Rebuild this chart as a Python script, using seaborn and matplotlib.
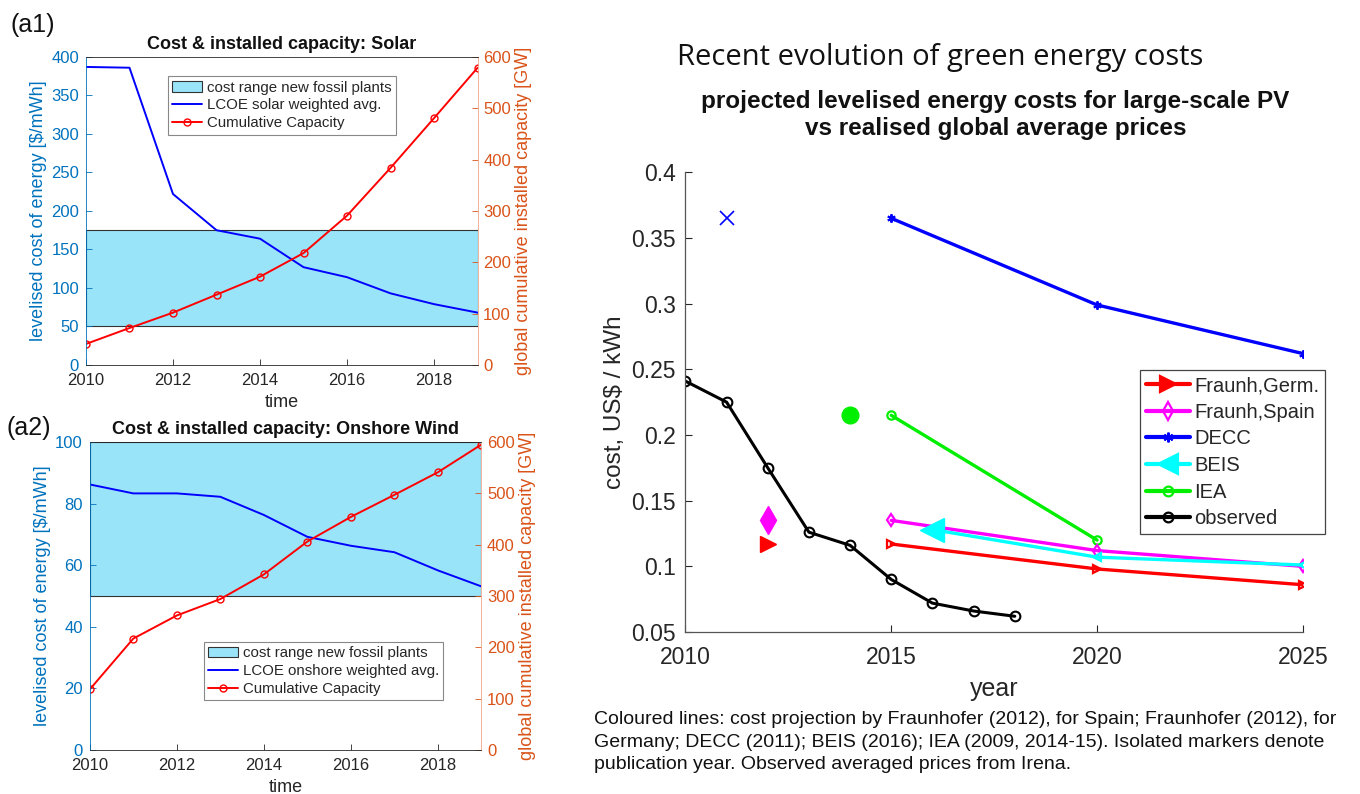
import numpy as np
import pandas as pd
import matplotlib
matplotlib.use("Agg")
import matplotlib.pyplot as plt
from matplotlib.patches import Patch
from matplotlib.lines import Line2D
import seaborn as sns

# ---------------- data ----------------
years_a = [2010, 2011, 2012, 2013, 2014, 2015, 2016, 2017, 2018, 2019]

solar_lcoe = [387, 386, 222, 175, 164, 127, 114, 93, 79, 68]
solar_capacity = [41, 72, 102, 137, 172, 218, 291, 384, 481, 579]
solar_fossil_range = [50, 175]

wind_lcoe = [86.2, 83.3, 83.3, 82.2, 76.3, 69.2, 66.3, 64.2, 58.3, 53.1]
wind_capacity = [118, 217, 262, 294, 342, 406, 454, 497, 541, 595]
wind_fossil_range = [50, 100]

obs_years = [2010, 2011, 2012, 2013, 2014, 2015, 2016, 2017, 2018]
obs_cost = [0.241, 0.225, 0.175, 0.126, 0.116, 0.090, 0.072, 0.066, 0.062]

germ_years = [2015, 2020, 2025]
germ_cost = [0.117, 0.098, 0.086]
spain_years = [2015, 2020, 2025]
spain_cost = [0.135, 0.112, 0.100]
decc_years = [2015, 2020, 2025]
decc_cost = [0.365, 0.299, 0.262]
beis_years = [2016, 2020, 2025]
beis_cost = [0.128, 0.107, 0.101]
iea_years = [2015, 2020]
iea_cost = [0.215, 0.120]

# publication-year markers
pub_germ = (2012, 0.117)
pub_spain = (2012, 0.135)
pub_decc = (2011, 0.365)
pub_beis = (2016, 0.128)
pub_iea = (2014, 0.215)

series_names = ["Fraunh,Germ.", "Fraunh,Spain", "DECC", "BEIS", "IEA", "observed"]

# ---------------- style ----------------
sns.set_theme(style="ticks")
plt.rcParams["font.family"] = ["Liberation Sans", "DejaVu Sans"]
plt.rcParams["xtick.direction"] = "in"
plt.rcParams["ytick.direction"] = "in"

BLUE_AX = "#0072BD"
ORANGE_AX = "#D95319"
BAND = "#99E4F9"
DARK = "#262626"

fig = plt.figure(figsize=(13.6, 7.94), dpi=100)


def cost_capacity_panel(rect, lcoe, cap, band, ymax_l, ystep_l, title, lcoe_label,
                        legend_xy, tag, tag_xy):
    ax = fig.add_axes(rect)
    ax.axhspan(band[0], band[1], facecolor=BAND, edgecolor="#333333", lw=0.8, zorder=0)
    sns.lineplot(x=years_a, y=lcoe, ax=ax, color="#0000FF", lw=1.4)
    ax.set_xlim(2010, 2019)
    ax.set_ylim(0, ymax_l)
    ax.set_yticks(np.arange(0, ymax_l + 1, ystep_l))
    ax.set_xticks([2010, 2012, 2014, 2016, 2018])
    ax.set_xlabel("time", fontsize=13, color=DARK, labelpad=4)
    ax.set_ylabel("levelised cost of energy [$/mWh]", fontsize=13, color=BLUE_AX, labelpad=3)
    ax.tick_params(axis="y", colors=BLUE_AX, labelsize=12, length=4, width=0.6, pad=5)
    ax.tick_params(axis="x", colors=DARK, labelsize=12, length=4, width=0.6, pad=6)
    ax.set_title(title, fontsize=13, fontweight="bold", color="#111111", pad=6)

    ax2 = ax.twinx()
    sns.lineplot(x=years_a, y=cap, ax=ax2, color="#FF0000", lw=1.4, marker="o",
                 markersize=5, markerfacecolor="none", markeredgecolor="#FF0000",
                 markeredgewidth=1.0)
    ax2.set_ylim(0, 600)
    ax2.set_yticks(np.arange(0, 601, 100))
    ax2.set_ylabel("global cumulative installed capacity [GW]", fontsize=13,
                   color=ORANGE_AX, labelpad=3)
    ax2.tick_params(axis="y", colors=ORANGE_AX, labelsize=12, length=4, width=0.6, pad=4)
    for sp in ("top", "bottom"):
        ax2.spines[sp].set_color(DARK)
        ax2.spines[sp].set_linewidth(0.6)
    ax2.spines["left"].set_color(BLUE_AX)
    ax2.spines["right"].set_color("#F2A58A")
    ax2.spines["left"].set_linewidth(0.6)
    ax2.spines["right"].set_linewidth(0.6)
    for sp in ax.spines.values():
        sp.set_visible(False)

    handles = [
        Patch(facecolor=BAND, edgecolor="#333333", lw=0.8, label="cost range new fossil plants"),
        Line2D([], [], color="#0000FF", lw=1.4, label=lcoe_label),
        Line2D([], [], color="#FF0000", lw=1.4, marker="o", markersize=5,
               markerfacecolor="none", label="Cumulative Capacity"),
    ]
    leg = ax2.legend(handles=handles, loc="upper left", bbox_to_anchor=legend_xy,
                     fontsize=10.8, frameon=True, fancybox=False, framealpha=1,
                     edgecolor="#888888", borderpad=0.3, labelspacing=0.25,
                     handlelength=2.0, handletextpad=0.3, borderaxespad=0)
    leg.get_frame().set_linewidth(0.8)
    fig.text(tag_xy[0], tag_xy[1], tag, fontsize=18, color="#111111", va="center")
    return ax, ax2


cost_capacity_panel([0.0632, 0.5403, 0.288, 0.388], solar_lcoe, solar_capacity,
                    solar_fossil_range, 400, 50, "Cost & installed capacity: Solar",
                    "LCOE solar weighted avg.", (0.209, 0.938), "(a1)", (0.008, 0.968))
cost_capacity_panel([0.066, 0.0554, 0.288, 0.388], wind_lcoe, wind_capacity,
                    wind_fossil_range, 100, 20, "Cost & installed capacity: Onshore Wind",
                    "LCOE onshore weighted avg.", (0.291, 0.351), "(a2)", (0.005, 0.461))

# ---------------- right panel ----------------
ax = fig.add_axes([0.504, 0.204, 0.454, 0.579])
LW = 2.4
line_kw = dict(lw=LW, markersize=6, markerfacecolor="none", markeredgewidth=1.6)
sns.lineplot(x=decc_years, y=decc_cost, ax=ax, color="#0000FF", marker=(6, 2, 0),
             markeredgecolor="#0000FF", lw=LW, markersize=6, markeredgewidth=1.4)
sns.lineplot(x=iea_years, y=iea_cost, ax=ax, color="#00EE00", marker="o",
             markeredgecolor="#00EE00", **line_kw)
sns.lineplot(x=spain_years, y=spain_cost, ax=ax, color="#FF00FF", marker="d",
             markeredgecolor="#FF00FF", **line_kw)
sns.lineplot(x=beis_years, y=beis_cost, ax=ax, color="#00FFFF", marker="<",
             markeredgecolor="#00FFFF", **line_kw)
sns.lineplot(x=germ_years, y=germ_cost, ax=ax, color="#FF0000", marker=">",
             markeredgecolor="#FF0000", **line_kw)
sns.lineplot(x=obs_years, y=obs_cost, ax=ax, color="black", marker="o",
             markeredgecolor="black", lw=2.2, markersize=7, markerfacecolor="none",
             markeredgewidth=1.5)

ax.plot(*pub_decc, marker="x", color="#0000FF", markersize=10, mew=1.2, ls="none")
ax.plot(*pub_iea, marker="o", color="#00EE00", markersize=12, ls="none")
ax.plot(*pub_spain, marker="d", color="#FF00FF", markersize=14, ls="none")
ax.plot(*pub_germ, marker=">", color="#FF0000", markersize=12, ls="none")
ax.plot(*pub_beis, marker="<", color="#00FFFF", markersize=17, ls="none")

ax.set_xlim(2010, 2025)
ax.set_ylim(0.05, 0.4)
ax.set_xticks([2010, 2015, 2020, 2025])
ax.set_yticks([0.05, 0.1, 0.15, 0.2, 0.25, 0.3, 0.35, 0.4])
ax.set_yticklabels(["0.05", "0.1", "0.15", "0.2", "0.25", "0.3", "0.35", "0.4"])
ax.tick_params(axis="y", labelsize=16.5, colors=DARK, length=5, width=0.8, pad=7)
ax.tick_params(axis="x", labelsize=16.5, colors=DARK, length=5, width=0.8, pad=10)
ax.set_xlabel("year", fontsize=18, color=DARK, labelpad=6)
ax.set_ylabel("cost, US$ / kWh", fontsize=17.5, color=DARK, labelpad=4)
sns.despine(ax=ax)
for sp in ("left", "bottom"):
    ax.spines[sp].set_color("#555555")
    ax.spines[sp].set_linewidth(0.9)

colors = ["#FF0000", "#FF00FF", "#0000FF", "#00FFFF", "#00EE00", "black"]
markers = [">", "d", (6, 2, 0), "<", "o", "o"]
msizes = [11, 9, 7, 14, 7, 7]
fills = ["#FF0000", "none", "#0000FF", "#00FFFF", "none", "none"]
handles = [Line2D([], [], color=c, lw=3, marker=m, markersize=s, markerfacecolor=f,
                  markeredgecolor=c, markeredgewidth=1.6, label=n)
           for c, m, s, f, n in zip(colors, markers, msizes, fills, series_names)]
leg = ax.legend(handles=handles, loc="upper left", bbox_to_anchor=(0.838, 0.534),
                bbox_transform=fig.transFigure, fontsize=14.5, frameon=True,
                fancybox=False, framealpha=1, edgecolor="#444444", borderpad=0.3,
                labelspacing=0.38, handlelength=2.2, handletextpad=0.2,
                borderaxespad=0)
leg.get_frame().set_linewidth(0.9)

fig.text(0.691, 0.927, "Recent evolution of green energy costs", fontsize=21,
         family=["Open Sans", "DejaVu Sans"], ha="center", va="center", color="#111111")
fig.text(0.732, 0.855,
         "projected levelised energy costs for large-scale PV\nvs realised global average prices",
         fontsize=17.5, fontweight="bold", ha="center", va="center", color="#111111",
         linespacing=1.2)
fig.text(0.437, 0.104,
         "Coloured lines: cost projection by Fraunhofer (2012), for Spain; Fraunhofer (2012), for\n"
         "Germany; DECC (2011); BEIS (2016); IEA (2009, 2014-15). Isolated markers denote\n"
         "publication year. Observed averaged prices from Irena.",
         fontsize=14, ha="left", va="top", color="#111111", linespacing=1.42)

fig.savefig("out.png", dpi=100)
